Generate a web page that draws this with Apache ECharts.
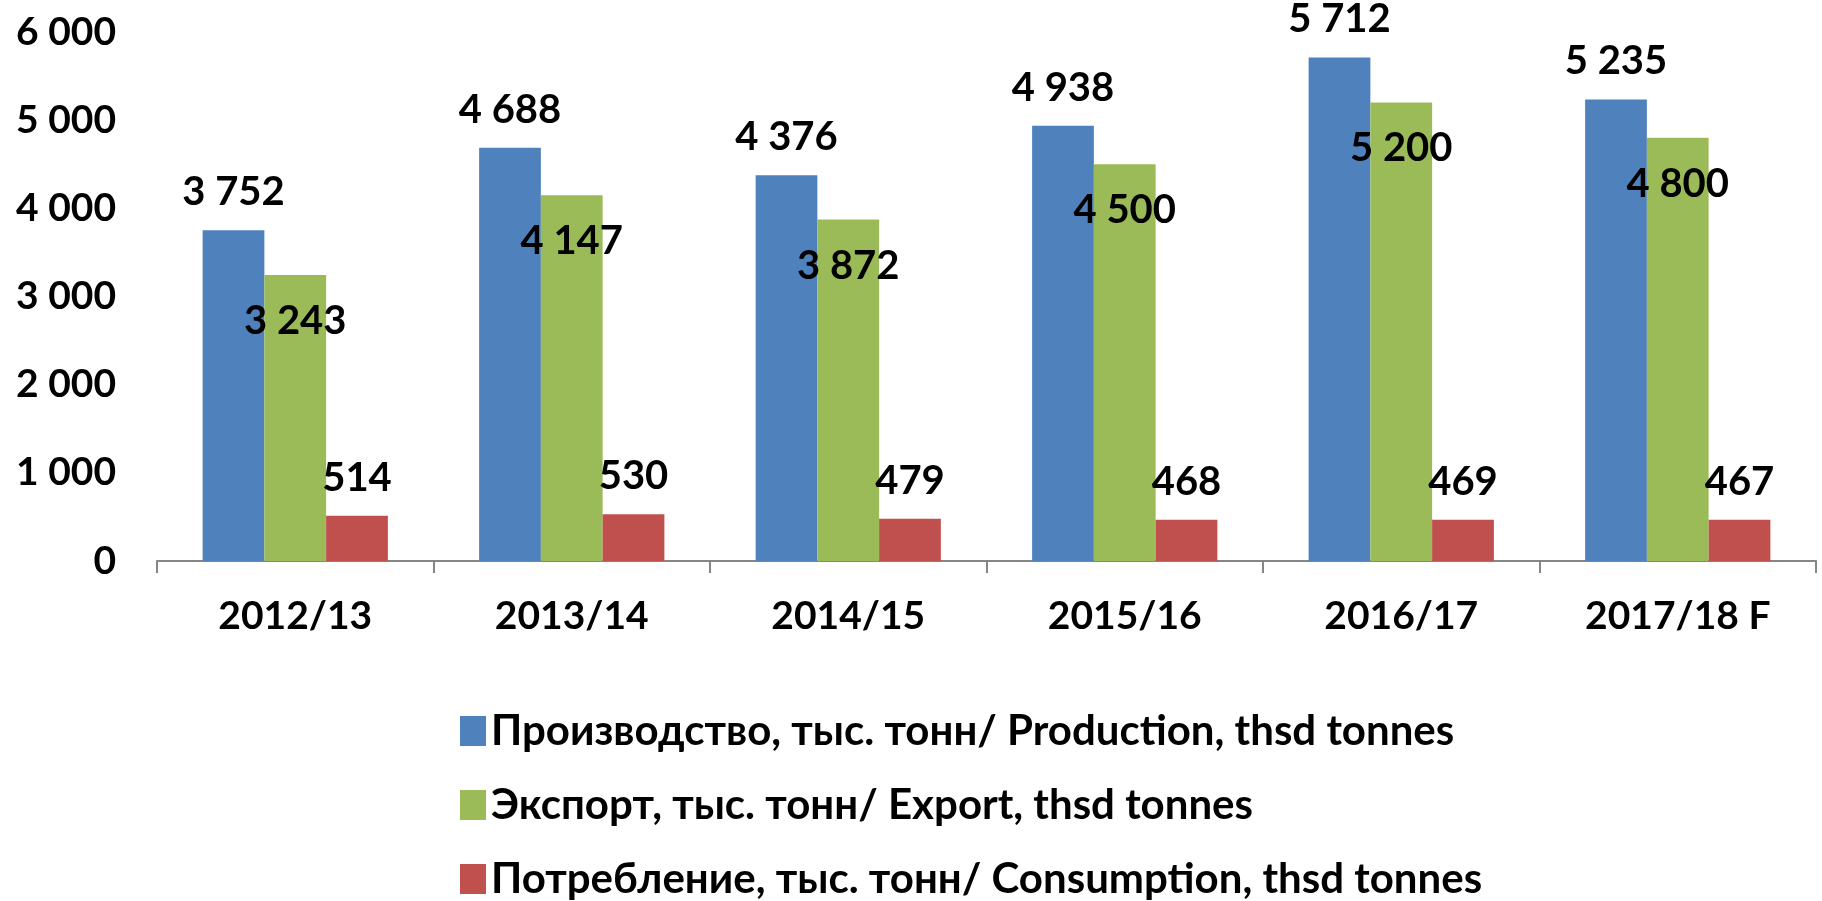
<!DOCTYPE html>
<html>
<head>
<meta charset="utf-8">
<script src="https://cdn.jsdelivr.net/npm/echarts@6/dist/echarts.min.js"></script>
<style>
  html, body { margin: 0; padding: 0; background: #fff; }
  #chart { width: 1822px; height: 901px; }
</style>
</head>
<body>
<div id="chart"></div>
<script>
// данные
const seasons = ['2012/13', '2013/14', '2014/15', '2015/16', '2016/17', '2017/18 F'];
const production = [3752, 4688, 4376, 4938, 5712, 5235];
const exportVals = [3243, 4147, 3872, 4500, 5200, 4800];
const consumption = [514, 530, 479, 468, 469, 467];
const seriesNames = [
  'Производство, тыс. тонн/ Production, thsd tonnes',
  'Экспорт, тыс. тонн/ Export, thsd tonnes',
  'Потребление, тыс. тонн/ Consumption, thsd tonnes'
];

const FONT = 'Lato';
const fmt = v => String(v).replace(/\B(?=(\d{3})+(?!\d))/g, ' ');

const chart = echarts.init(document.getElementById('chart'));

const labelBase = {
  show: true,
  fontFamily: FONT,
  fontWeight: 'bold',
  fontSize: 40,
  color: '#000',
  formatter: p => fmt(p.value)
};

chart.setOption({
  animation: false,
  grid: { left: 157, right: 6, top: 32, bottom: 340, containLabel: false },
  legend: {
    orient: 'vertical',
    left: 455,
    top: 704,
    height: 197,
    itemWidth: 26,
    itemHeight: 30,
    itemGap: 30,
    itemStyle: { borderWidth: 0 },
    icon: 'rect',
    textStyle: { fontFamily: FONT, fontWeight: 'bold', fontSize: 42, lineHeight: 44, color: '#000' },
    data: seriesNames
  },
  xAxis: {
    type: 'category',
    data: seasons,
    axisLine: { lineStyle: { color: '#868686', width: 2 } },
    axisTick: { show: true, alignWithLabel: false, length: 12, lineStyle: { color: '#868686', width: 2 } },
    axisLabel: { fontFamily: FONT, fontWeight: 'bold', fontSize: 39, color: '#000', margin: 36 }
  },
  yAxis: {
    type: 'value',
    min: 0,
    max: 6000,
    interval: 1000,
    splitLine: { show: false },
    axisLine: { show: false },
    axisTick: { show: false },
    axisLabel: {
      fontFamily: FONT, fontWeight: 'bold', fontSize: 39, color: '#000', margin: 41,
      formatter: v => fmt(v)
    }
  },
  series: [
    {
      name: seriesNames[0], type: 'bar', data: production,
      barGap: '0%', barCategoryGap: '33%',
      itemStyle: { color: '#4F81BD' },
      label: Object.assign({}, labelBase, { position: 'top', distance: 18 })
    },
    {
      name: seriesNames[1], type: 'bar', data: exportVals,
      itemStyle: { color: '#9BBB59' },
      label: Object.assign({}, labelBase, { position: 'insideTop', distance: 26 })
    },
    {
      name: seriesNames[2], type: 'bar', data: consumption,
      itemStyle: { color: '#C0504D' },
      label: Object.assign({}, labelBase, { position: 'top', distance: 18 })
    }
  ]
});

window.onresize = function () {
  chart.resize();
};
</script>
</body>
</html>
